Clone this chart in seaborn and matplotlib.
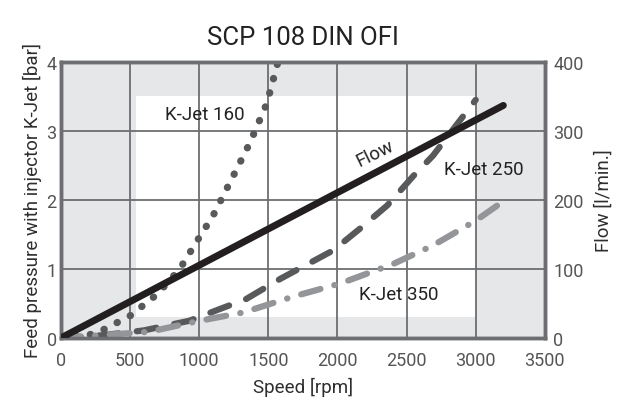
import numpy as np
import pandas as pd
import seaborn as sns
import matplotlib
matplotlib.use("Agg")
import matplotlib.pyplot as plt
from matplotlib.patches import Rectangle

sns.set_style("white")
plt.rcParams['font.family'] = ['Roboto', 'DejaVu Sans']

speed_160 = [0, 250, 500, 700, 860, 980, 1100, 1260, 1370, 1490, 1570]
press_160 = [0, 0.06, 0.32, 0.64, 1.0, 1.39, 1.77, 2.4, 2.84, 3.4, 4.0]
speed_250 = [0, 300, 600, 930, 1150, 1340, 1585, 1970, 2160, 2360, 2550, 2690, 3000]
press_250 = [0, 0.04, 0.11, 0.25, 0.42, 0.565, 0.855, 1.27, 1.58, 1.92, 2.35, 2.64, 3.45]
speed_350 = [0, 640, 980, 1320, 1680, 2020, 2400, 2690, 3000, 3220]
press_350 = [0, 0.09, 0.24, 0.37, 0.6, 0.79, 1.07, 1.34, 1.7, 2.01]
speed_flow = [0, 3200]
flow_lpm = [0, 337]

x_ticks = [0, 500, 1000, 1500, 2000, 2500, 3000, 3500]
y_ticks = [0, 1, 2, 3, 4]
y2_ticks = [0, 100, 200, 300, 400]

grey_axis = '#6d6e71'
text_c = '#2e2e2e'
tick_c = '#555555'

fig = plt.figure(figsize=(6.27, 4.06), dpi=100)
ax = fig.add_axes([0.097, 0.165, 0.772, 0.68])
ax.set_facecolor('#e6e7e8')
ax.add_patch(Rectangle((540, 0.3), 3000 - 540, 3.2, facecolor='white', edgecolor='none', zorder=0.5))
ax.set_xlim(0, 3500)
ax.set_ylim(0, 4)
ax.set_xticks(x_ticks)
ax.set_yticks(y_ticks)
ax.grid(True, color=grey_axis, linewidth=1.3, zorder=1)
ax.set_axisbelow(False)

ax2 = ax.twinx()
ax2.set_ylim(0, 400)
ax2.set_yticks(y2_ticks)

df160 = pd.DataFrame({'x': speed_160, 'y': press_160})
df250 = pd.DataFrame({'x': speed_250, 'y': press_250})
df350 = pd.DataFrame({'x': speed_350, 'y': press_350})
dff = pd.DataFrame({'x': speed_flow, 'y': flow_lpm})

sns.lineplot(data=df160, x='x', y='y', ax=ax, color='#58595b', linewidth=5.2, zorder=3)
ax.lines[-1].set_linestyle((0, (0.05, 2.0)))
ax.lines[-1].set_dash_capstyle('round')
sns.lineplot(data=df250, x='x', y='y', ax=ax, color='#58595b', linewidth=4.5, zorder=3)
ax.lines[-1].set_linestyle((0, (3.2, 2.9)))
ax.lines[-1].set_dash_capstyle('round')
sns.lineplot(data=df350, x='x', y='y', ax=ax, color='#939598', linewidth=4.5, zorder=3)
ax.lines[-1].set_linestyle((0, (3.2, 2.3, 0.05, 2.3)))
ax.lines[-1].set_dash_capstyle('round')
sns.lineplot(data=dff, x='x', y='y', ax=ax2, color='#231f20', linewidth=5, zorder=4)
ax2.lines[-1].set_solid_capstyle('round')

for a in (ax, ax2):
    for s in a.spines.values():
        s.set_color(grey_axis)
        s.set_linewidth(2.5)
        s.set_visible(True)
    a.set_xlabel('')
    a.set_ylabel('')

ax.tick_params(axis='x', length=4, width=1.3, color=grey_axis, labelsize=13, labelcolor=tick_c, pad=5)
ax.tick_params(axis='y', length=0, labelsize=13, labelcolor=tick_c, pad=3)
ax2.tick_params(axis='y', length=0, labelsize=13, labelcolor=tick_c, pad=6)

ax.set_xlabel('Speed [rpm]', fontsize=13.5, color=text_c, labelpad=6)
ax.set_ylabel('Feed pressure with injector K-Jet [bar]', fontsize=13.5, color=text_c, labelpad=3)
ax2.set_ylabel('Flow [l/min.]', fontsize=13.5, color=text_c, labelpad=8)
ax.set_title('SCP 108 DIN OFI', fontsize=18.5, color='#222222', pad=13)

ax.text(1040, 3.25, 'K-Jet 160', fontsize=13.5, color='#222222', ha='center', va='center', zorder=5)
ax.text(3060, 2.45, 'K-Jet 250', fontsize=13.5, color='#222222', ha='center', va='center', zorder=5)
ax.text(2440, 0.64, 'K-Jet 350', fontsize=13.5, color='#222222', ha='center', va='center', zorder=5)
ax.text(2270, 2.68, 'Flow', fontsize=13.5, color='#222222', ha='center', va='center', rotation=26, zorder=5)

fig.savefig('out.png', dpi=100)
